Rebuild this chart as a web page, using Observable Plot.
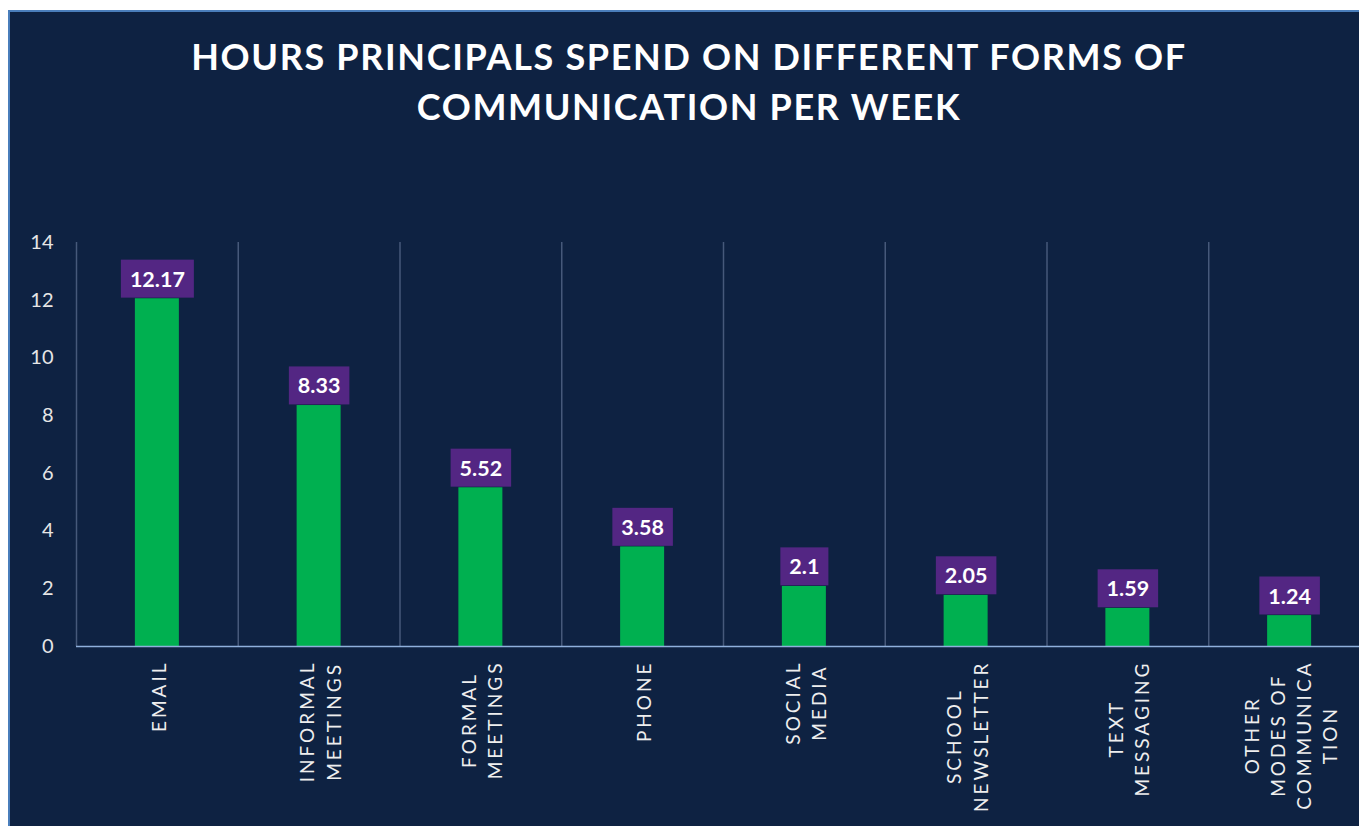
<!DOCTYPE html>
<html>
<head>
<meta charset="utf-8">
<script src="https://cdn.jsdelivr.net/npm/d3@7"></script>
<script src="https://cdn.jsdelivr.net/npm/@observablehq/plot@0.6"></script>
<style>
  html, body { margin: 0; padding: 0; background: #ffffff; width: 1359px; height: 826px; overflow: hidden; }
  #panel { position: absolute; left: 8px; top: 10px; width: 1420px; height: 900px; background: #0e2242;
           border-top: 2px solid #4a7ebb; border-left: 2px solid #4a7ebb; }
  #title { position: absolute; left: 8px; top: 32px; width: 1362px; text-align: center; color: #ffffff;
           font-family: Lato, "Open Sans", sans-serif; font-weight: 700; font-size: 36px; line-height: 49.5px;
           letter-spacing: 1.65px; }
  #chart { position: absolute; left: 0; top: 0; width: 1380px; height: 826px; }
  #chart svg { max-width: none !important; width: 1380px; height: 826px; }
</style>
</head>
<body>
<div id="panel"></div>
<div id="title">HOURS PRINCIPALS SPEND ON DIFFERENT FORMS OF<br>COMMUNICATION PER WEEK</div>
<div id="chart"></div>
<script>
// Categories (axis labels, line breaks as shown)
const categories = ["Email", "Informal meetings", "Formal meetings", "Phone", "Social media",
                    "School newsletter", "Text messaging", "Other modes of communication"];
const axisLabels = ["EMAIL", "INFORMAL\nMEETINGS", "FORMAL\nMEETINGS", "PHONE", "SOCIAL\nMEDIA",
                    "SCHOOL\nNEWSLETTER", "TEXT\nMESSAGING", "OTHER\nMODES OF\nCOMMUNICA\nTION"];
// Bar heights as drawn in the picture
const barHours = [12.05, 8.35, 5.5, 3.45, 2.08, 1.77, 1.32, 1.07];
// Data labels as printed
const labelText = ["12.17", "8.33", "5.52", "3.58", "2.1", "2.05", "1.59", "1.24"];
const yTicks = [0, 2, 4, 6, 8, 10, 12, 14];

const data = categories.map((c, i) => ({cat: c, bar: barHours[i], label: labelText[i], xlabel: axisLabels[i]}));

const W = 1380, H = 826, mL = 76, mR = 10, mT = 242, mB = 180;
const step = (W - mL - mR) / categories.length;

const plot = Plot.plot({
  width: W, height: H,
  marginLeft: mL, marginRight: mR, marginTop: mT, marginBottom: mB,
  style: {background: "transparent", color: "#e6e6e6", fontFamily: "Lato, 'Open Sans', sans-serif", fontSize: "20px"},
  x: {domain: categories, paddingInner: 0.728, paddingOuter: 0.364, round: false, axis: null},
  y: {domain: [0, 14], axis: null},
  marks: [
    Plot.ruleX(categories, {x: d => d, y1: 0, y2: 14, dx: -step / 2, stroke: "#46597a", strokeWidth: 1.5}),
    Plot.barY(data, {x: "cat", y: "bar", fill: "#00b050"}),
    Plot.ruleY([0], {stroke: "#8fb0dc", strokeWidth: 1.5}),
    Plot.axisY({ticks: yTicks, tickSize: 0, tickPadding: 23, fontSize: 20, fill: "#e6e6e6", label: null}),
    Plot.text(data, {x: "cat", y: "bar", text: "label", dy: -19, lineAnchor: "middle",
                     fill: "#ffffff", fontWeight: "bold", fontSize: 21.5}),
    Plot.text(data, {x: "cat", text: "xlabel", frameAnchor: "bottom", dy: 14, rotate: -90,
                     textAnchor: "end", lineAnchor: "middle", lineHeight: 1.38, fontSize: 19,
                     fill: "#eeeeee"})
  ]
});
plot.style.maxWidth = "none";
document.getElementById("chart").appendChild(plot);

const textGroups = Array.from(plot.querySelectorAll('g[aria-label="text"]'));
const dlabelGroup = textGroups[0];
const xlabelGroup = textGroups[1];

// letter-spaced axis labels, lines centred within each block
xlabelGroup.querySelectorAll("text").forEach(t => {
  t.style.letterSpacing = "3px";
  const spans = Array.from(t.querySelectorAll("tspan"));
  if (spans.length < 2) return;
  const lens = spans.map(s => s.getComputedTextLength());
  const max = Math.max(...lens);
  spans.forEach((s, i) => s.setAttribute("x", -(max - lens[i]) / 2));
});

// purple boxes behind the data labels
const ns = "http://www.w3.org/2000/svg";
dlabelGroup.querySelectorAll("text").forEach(t => {
  const b = t.getBBox();
  const r = document.createElementNS(ns, "rect");
  r.setAttribute("x", b.x - 9);
  r.setAttribute("width", b.width + 18);
  r.setAttribute("y", b.y + b.height / 2 - 19);
  r.setAttribute("height", 38);
  r.setAttribute("fill", "#532683");
  const tr = t.getAttribute("transform");
  if (tr) r.setAttribute("transform", tr);
  t.parentNode.insertBefore(r, t);
});
</script>
</body>
</html>
